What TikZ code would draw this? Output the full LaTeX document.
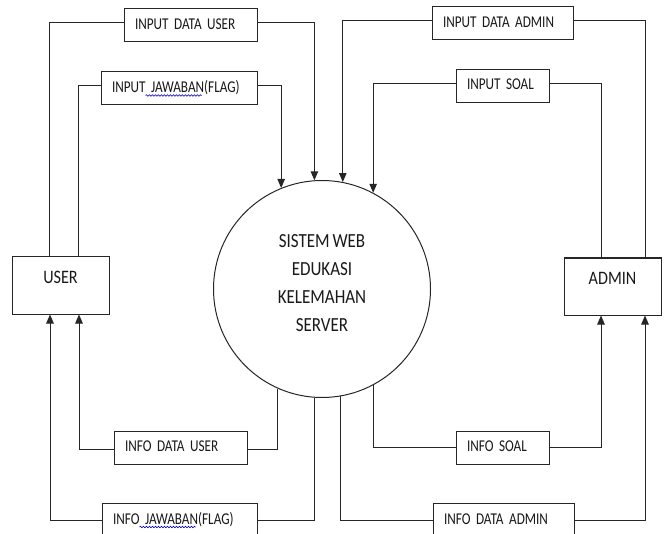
\documentclass[tikz,border=0pt]{standalone}
\usepackage{fontspec}
\setmainfont{Carlito}[FakeStretch=0.85, WordSpace=0.75]
\newfontfamily\boxfont{Carlito}[FakeStretch=0.8, WordSpace=0.6]
\usetikzlibrary{arrows.meta,decorations.pathmorphing}
\begin{document}
\begin{tikzpicture}[x=1pt,y=-1pt,
  flow/.style={draw=black!85, line width=1pt, minimum height=33pt, inner xsep=11pt, inner ysep=0pt,
    align=left, font=\boxfont\fontsize{16.5}{18}\selectfont, text=black!90, text height=11pt, text depth=3pt},
  ent/.style={draw=black!85, line width=1pt, minimum width=97pt, minimum height=57pt, inner sep=0pt,
    font=\fontsize{19}{22}\selectfont, text=black!90, text height=14pt, text depth=19pt},
  conn/.style={draw=black!85, line width=1pt},
  arr/.style={conn, -{Triangle[length=9pt,width=7.5pt]}},
  spellwave/.style={draw=blue!75!black, line width=0.6pt, decorate,
    decoration={snake, amplitude=0.8pt, segment length=3pt}}]
\useasboundingbox (0,0) rectangle (668,534);
\clip (0,0) rectangle (668,534);
\fill[white] (0,0) rectangle (668,534);

% entities and process
\node[ent] (user) at (60.5,285.5) {USER};
\node[ent] (admin) at (612.5,286.5) {ADMIN};
\node[draw=black!85, line width=1pt, circle, minimum size=217pt, inner sep=0pt] (sys) at (322,289) {};
\node[align=center, font=\fontsize{20}{28}\selectfont, text=black!90] (systext) at (322,283) {SISTEM WEB\\EDUKASI\\KELEMAHAN\\SERVER};

% data flow labels
\node[flow, text width=111pt] (idu) at (190.5,25.5) {INPUT DATA USER};
\node[flow, text width=134pt] (iju) at (179,88.5) {INPUT JAWABAN(FLAG)};
\node[flow, text width=119pt] (ida) at (502.5,23.5) {INPUT DATA ADMIN};
\node[flow, text width=71pt] (isoal) at (502.5,86) {INPUT SOAL};
\node[flow, text width=111pt] (ifdu) at (180.5,447.5) {INFO DATA USER};
\node[flow, text width=71pt] (ifsoal) at (502.5,447.5) {INFO SOAL};
\node[flow, text width=133pt, minimum height=34pt] (ifj) at (179.5,520) {INFO JAWABAN(FLAG)};
\node[flow, text width=119pt, minimum height=34pt] (ifda) at (503.5,520) {INFO DATA ADMIN};

% spell-check underlines
\draw[spellwave] ([xshift=45pt,yshift=-7pt]iju.west) -- ++(56,0);
\draw[spellwave] ([xshift=38pt,yshift=-7pt]ifj.west) -- ++(56,0);

% inputs
\draw[conn] ([xshift=-11.5pt]user.north) |- ([yshift=2.5pt]idu.west);
\draw[arr] ([yshift=2.5pt]idu.east) -| (sys.94.2);
\draw[conn] ([xshift=17.5pt]user.north) |- ([yshift=2.5pt]iju.west);
\draw[arr] ([yshift=2.5pt]iju.east) -| (sys.112.8);
\draw[arr] ([yshift=2.5pt]ida.west) -| (sys.79.4);
\draw[conn] ([xshift=32.5pt]admin.north) |- ([yshift=2.5pt]ida.east);
\draw[arr] ([yshift=2pt]isoal.west) -| (sys.62);
\draw[conn] ([xshift=-11.5pt]admin.north) |- ([yshift=2pt]isoal.east);

% outputs
\draw[conn] (sys.246.6) |- ([yshift=-1.5pt]ifdu.east);
\draw[arr] ([yshift=-1.5pt]ifdu.west) -| ([xshift=18.5pt]user.south);
\draw[conn] (sys.266.3) |- (ifj.east);
\draw[arr] (ifj.west) -| ([xshift=-10.5pt]user.south);
\draw[conn] (sys.298) |- (ifsoal.west);
\draw[arr] (ifsoal.east) -| ([xshift=-11.5pt]admin.south);
\draw[conn] (sys.280.6) |- (ifda.west);
\draw[arr] (ifda.east) -| ([xshift=32.5pt]admin.south);
\end{tikzpicture}
\end{document}
